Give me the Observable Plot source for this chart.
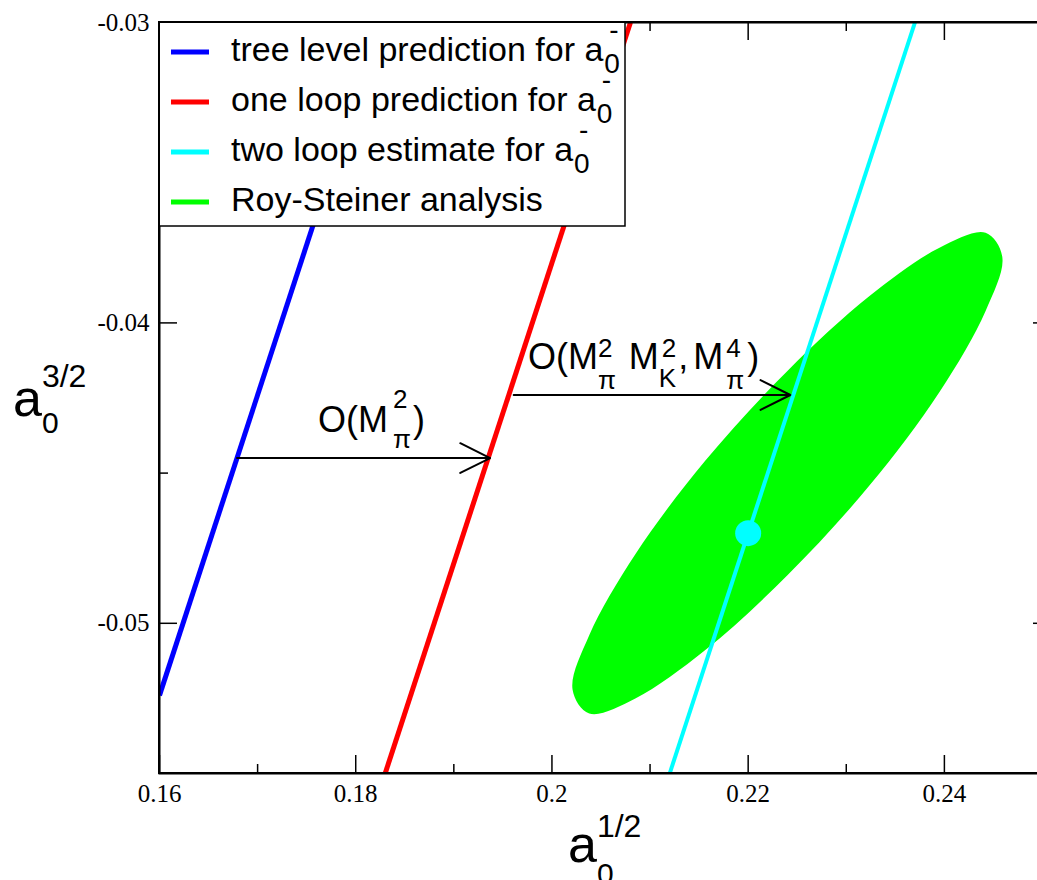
<!DOCTYPE html>
<html>
<head>
<meta charset="utf-8">
<script src="https://cdn.jsdelivr.net/npm/d3@7"></script>
<script src="https://cdn.jsdelivr.net/npm/@observablehq/plot@0.6"></script>
<style>
  html, body { margin: 0; padding: 0; background: #fff; }
  #chart svg { display: block; max-width: none; }
</style>
</head>
<body>
<div id="chart"></div>
<script>
// ---------------- data ----------------
const seriesNames  = ["tree level prediction for a", "one loop prediction for a", "two loop estimate for a", "Roy-Steiner analysis"];
const seriesScript = [true, true, true, false];
const seriesColors = ["#0000ff", "#ff0000", "#00ffff", "#00ff00"];

// straight lines of constant a0^- (endpoints on the frame)
const treeX    = [0.1600, 0.1824];
const treeY    = [-0.0524, -0.0300];
const oneLoopX = [0.1830, 0.2080];
const oneLoopY = [-0.0550, -0.0300];
const twoLoopX = [0.2120, 0.2370];
const twoLoopY = [-0.0550, -0.0300];

// two loop central point
const pointX = [0.220];
const pointY = [-0.047];

// Roy-Steiner region boundary (read around the green ellipse)
const ellipseX = [0.2459, 0.2442, 0.2395, 0.2324, 0.2240, 0.2156, 0.2085, 0.2038, 0.2021, 0.2038, 0.2085, 0.2156, 0.2240, 0.2324, 0.2395, 0.2442];
const ellipseY = [-0.0378, -0.0370, -0.0375, -0.0391, -0.0416, -0.0446, -0.0477, -0.0504, -0.0522, -0.0530, -0.0525, -0.0509, -0.0484, -0.0454, -0.0423, -0.0396];

// arrows
const arrowX1 = [0.1679, 0.1961];
const arrowX2 = [0.1937, 0.2243];
const arrowY  = [-0.0445, -0.0424];

// arrow labels (left end of text, baseline)
const labelX = [0.1762, 0.1976];
const labelY = [-0.04365, -0.04155];

// axes
const xDomain = [0.16, 0.25];
const yDomain = [-0.055, -0.03];
const xTicksMajor = [0.16, 0.18, 0.20, 0.22, 0.24];
const xTickLabels = ["0.16", "0.18", "0.2", "0.22", "0.24"];
const xTicksMinor = [0.17, 0.19, 0.21, 0.23];
const yTicksMajor = [-0.05, -0.04, -0.03];
const yTickLabels = ["-0.05", "-0.04", "-0.03"];
const yTicksMinor = [-0.045, -0.035];
const yTicksRight = [-0.05, -0.04];

// ---------------- layout ----------------
const W = 1037, H = 880;
const mL = 159, mR = -5, mT = 22, mB = 107;
const plotW = W - mL - mR, plotH = H - mT - mB;
const SERIF = "'Liberation Serif', 'Times New Roman', serif";
const SANS = "'Liberation Sans', Arial, Helvetica, sans-serif";

const toPts = (xs, ys) => xs.map((x, i) => ({x, y: ys[i]}));
const lineSets = [
  {pts: toPts(treeX, treeY), color: seriesColors[0], w: 5},
  {pts: toPts(oneLoopX, oneLoopY), color: seriesColors[1], w: 5},
  {pts: toPts(twoLoopX, twoLoopY), color: seriesColors[2], w: 4}
];
const ellipse = toPts(ellipseX, ellipseY);
const points = toPts(pointX, pointY);
const arrows = arrowX1.map((x1, i) => ({x1, x2: arrowX2[i], y: arrowY[i]}));
const xLab = new Map(xTicksMajor.map((v, i) => [v, xTickLabels[i]]));
const yLab = new Map(yTicksMajor.map((v, i) => [v, yTickLabels[i]]));

const plot = Plot.plot({
  width: W, height: H,
  marginLeft: mL, marginRight: mR, marginTop: mT, marginBottom: mB,
  x: {domain: xDomain},
  y: {domain: yDomain},
  style: {fontFamily: SERIF, fontSize: "25px", color: "black", background: "white"},
  marks: [
    Plot.line(ellipse, {x: "x", y: "y", fill: seriesColors[3], stroke: "none", curve: "catmull-rom-closed"}),
    ...lineSets.map(s => Plot.line(s.pts, {x: "x", y: "y", stroke: s.color, strokeWidth: s.w, strokeLinecap: "butt", clip: true})),
    Plot.dot(points, {x: "x", y: "y", r: 13, fill: seriesColors[2], stroke: "none"}),
    Plot.arrow(arrows, {x1: "x1", x2: "x2", y1: "y", y2: "y", stroke: "black", strokeWidth: 2, headLength: 25, headAngle: 53}),
    // inward ticks
    Plot.tickX(xTicksMajor, {x: d => d, stroke: "black", strokeWidth: 1.5, insetTop: plotH - 18}),
    Plot.tickX(xTicksMinor, {x: d => d, stroke: "black", strokeWidth: 1.5, insetTop: plotH - 9}),
    Plot.tickX(xTicksMajor, {x: d => d, stroke: "black", strokeWidth: 1.5, insetBottom: plotH - 18}),
    Plot.tickX(xTicksMinor, {x: d => d, stroke: "black", strokeWidth: 1.5, insetBottom: plotH - 9}),
    Plot.tickY(yTicksMajor, {y: d => d, stroke: "black", strokeWidth: 1.5, insetRight: plotW - 18}),
    Plot.tickY(yTicksMinor, {y: d => d, stroke: "black", strokeWidth: 1.5, insetRight: plotW - 9}),
    Plot.tickY(yTicksRight, {y: d => d, stroke: "black", strokeWidth: 1.5, insetLeft: plotW - 9}),
    // tick labels
    Plot.axisX(xTicksMajor, {anchor: "bottom", tickSize: 0, tickPadding: 11, tickFormat: d => xLab.get(d), label: null, fontSize: 25, fontFamily: SERIF}),
    Plot.axisY(yTicksMajor, {anchor: "left", tickSize: 0, tickPadding: 10, tickFormat: d => yLab.get(d), label: null, fontSize: 25, fontFamily: SERIF}),
    Plot.frame({stroke: "black", strokeWidth: 2})
  ]
});
document.getElementById("chart").append(plot);

// ---------------- overlay text & legend ----------------
const svg = d3.select(plot);
function scaleFn(name) {
  const s = plot.scale(name);
  return s.apply ? (v => s.apply(v)) : d3.scaleLinear(s.domain, s.range);
}
const sx = scaleFn("x"), sy = scaleFn("y");

function richText(parent, x, y, parts) {
  const g = parent.append("g").attr("font-family", SANS).attr("fill", "black").attr("text-anchor", "start");
  let cx = x;
  for (const p of parts) {
    cx += p.before || 0;
    const items = p.stack || [p];
    let w = 0;
    for (const q of items) {
      const el = g.append("text")
        .attr("x", cx + (q.dx || 0))
        .attr("y", y + (q.dy || 0))
        .attr("font-size", q.size)
        .attr("text-anchor", "start")
        .text(q.t);
      w = Math.max(w, el.node().getComputedTextLength() + (q.dx || 0));
    }
    cx += w + (p.after || 0);
  }
  return g;
}

// arrow labels
richText(svg, sx(labelX[0]), sy(labelY[0]), [
  {t: "O(M", size: 36},
  {stack: [{t: "2", size: 26, dy: -24}, {t: "π", size: 26, dy: 16}], before: 5, after: 2},
  {t: ")", size: 36}
]);
richText(svg, sx(labelX[1]), sy(labelY[1]), [
  {t: "O(M", size: 36},
  {stack: [{t: "2", size: 26, dy: -12}, {t: "π", size: 26, dy: 20}], before: 0, after: 13},
  {t: "M", size: 36},
  {stack: [{t: "2", size: 26, dy: -12, dx: 3}, {t: "K", size: 26, dy: 18}], after: 2},
  {t: ",", size: 36, after: 5},
  {t: "M", size: 36},
  {stack: [{t: "4", size: 26, dy: -12}, {t: "π", size: 26, dy: 20}], before: 3, after: 3},
  {t: ")", size: 36}
]);

// axis titles
richText(svg, 13, 416, [
  {t: "a", size: 52},
  {stack: [{t: "3/2", size: 32, dy: -29}, {t: "0", size: 30, dy: 17}]}
]);
richText(svg, 568, 862, [
  {t: "a", size: 52},
  {stack: [{t: "1/2", size: 32, dy: -25}, {t: "0", size: 30, dy: 22}]}
]);

// legend
const lx = sx(xDomain[0]), ly = sy(yDomain[1]);
const leg = svg.append("g");
leg.append("rect").attr("x", lx).attr("y", ly).attr("width", 466).attr("height", 204)
  .attr("fill", "white").attr("stroke", "black").attr("stroke-width", 1.5);
seriesNames.forEach((name, i) => {
  const rowY = ly + 30 + i * 50;
  leg.append("line").attr("x1", lx + 12).attr("x2", lx + 50).attr("y1", rowY).attr("y2", rowY)
    .attr("stroke", seriesColors[i]).attr("stroke-width", 5);
  const parts = [{t: name, size: 34}];
  if (seriesScript[i]) parts.push({stack: [{t: "-", size: 28, dy: -22, dx: 5}, {t: "0", size: 28, dy: 12}], before: 1});
  richText(leg, lx + 72, rowY + 9, parts);
});
// redraw frame edges over legend
svg.append("rect").attr("x", lx).attr("y", ly).attr("width", plotW).attr("height", plotH)
  .attr("fill", "none").attr("stroke", "black").attr("stroke-width", 2);
</script>
</body>
</html>
